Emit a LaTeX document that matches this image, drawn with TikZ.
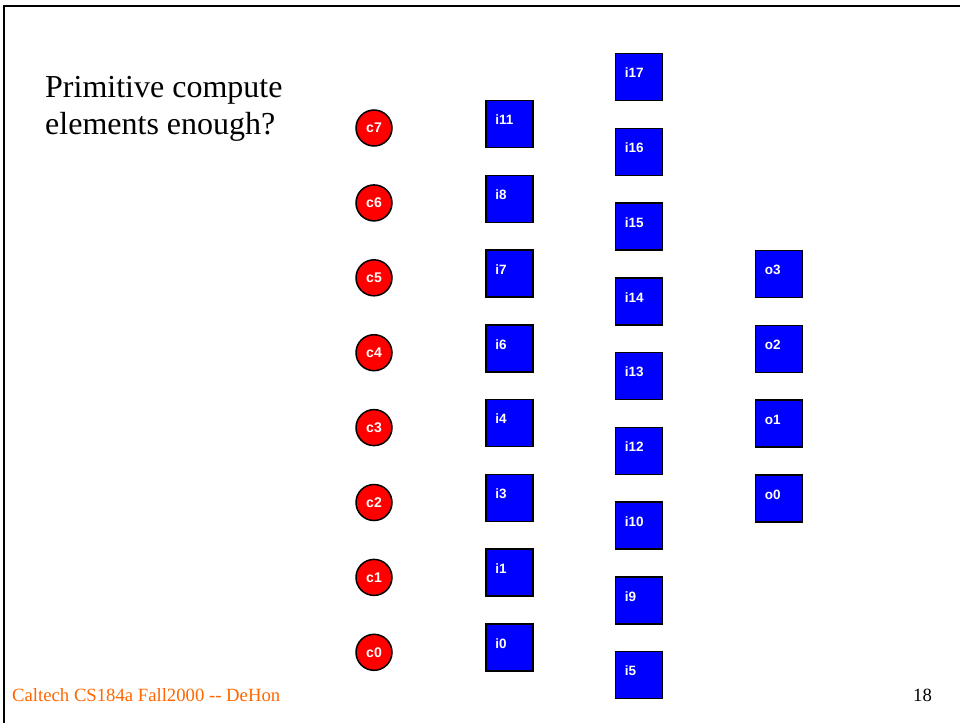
\documentclass[tikz,border=0pt]{standalone}
\usepackage{fontspec}
\setmainfont{Liberation Serif}
\setsansfont{Liberation Sans}
\usepackage{xcolor}
\usetikzlibrary{positioning, calc}
\definecolor{footorange}{RGB}{255,102,0}
\tikzset{
	elem/.style={draw=black, line width=1.5pt, inner sep=0pt},
	cnode/.style={elem, circle, fill=red, minimum size=36pt, text=white,
		font=\sffamily\bfseries\fontsize{14}{14}\selectfont},
	ibox/.style={elem, rectangle, fill=blue, minimum size=47pt},
	btext/.style={anchor=base west, text=white, inner sep=0pt,
		font=\sffamily\bfseries\fontsize{13.5}{14}\selectfont},
	line/.style={draw, line width=2pt}
}

\begin{document}
\begin{tikzpicture}[x=1pt,y=-1pt]
	\useasboundingbox (0,0) rectangle (960,723);
	% Frame
	\coordinate (TL) at (4,6);
	\coordinate (TR) at (960,6);
	\coordinate (BL) at (4,723);
	\draw[line] (TR) -- (TL) -- (BL);
	
	% Title
	\node[anchor=base west, inner sep=0pt, align=left,
		font=\fontsize{32}{37}\selectfont] (title) at (45,134)
		{Primitive compute\\elements enough?};
	
	% Compute elements
	\foreach \c [count=\k from 0] in {c7,c6,c5,c4,c3,c2,c1,c0}
	\node[cnode] (\c) at (374,128+74.9*\k) {\c};
	
	% Inputs, first column
	\foreach \b [count=\k from 0] in {i11,i8,i7,i6,i4,i3,i1,i0}
	\node[ibox] (\b) at (509.5,124+74.75*\k) {};
	
	% Inputs, second column
	\foreach \b [count=\k from 0] in {i17,i16,i15,i14,i13,i12,i10,i9,i5}
	\node[ibox] (\b) at (639,77+74.75*\k) {};
	
	% Outputs
	\foreach \b [count=\k from 0] in {o3,o2,o1,o0}
	\node[ibox] (\b) at (779,274+74.75*\k) {};
	
	% Box labels
	\foreach \b in {i11,i8,i7,i6,i4,i3,i1,i0,i17,i16,i15,i14,i13,i12,i10,i9,i5,o3,o2,o1,o0}
	\node[btext] (\b-txt) at ([xshift=10pt,yshift=-25pt]\b.north west) {\b};
	
	% Footer
	\node[anchor=base west, inner sep=0pt, text=footorange,
		font=\fontsize{18.7}{20}\selectfont] (foot) at (12,701)
		{Caltech CS184a Fall2000 -{}- DeHon};
	\node[anchor=base west, inner sep=0pt,
		font=\fontsize{18.7}{20}\selectfont] (page) at (913,701) {18};
\end{tikzpicture}
\end{document}
